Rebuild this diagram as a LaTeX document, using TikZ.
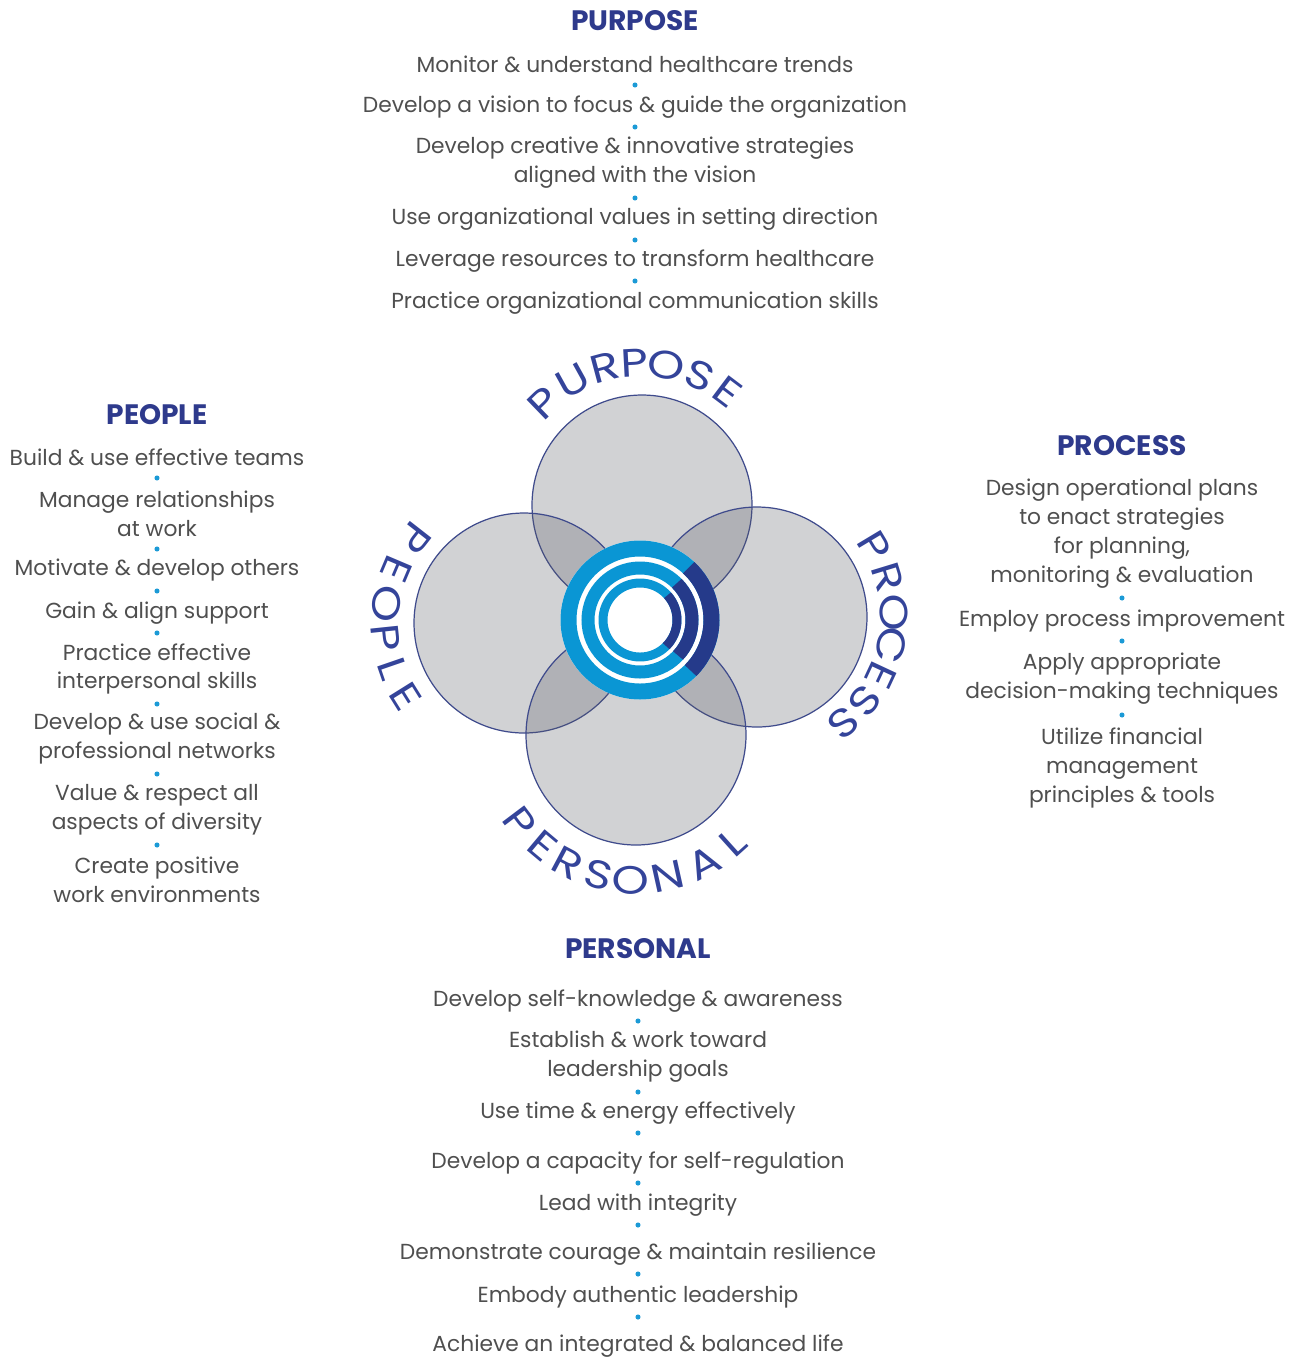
\documentclass[tikz,border=0pt]{standalone}
\usepackage{fontspec}
\setmainfont{Poppins}
\newfontfamily\arcfont[FakeStretch=1.2]{Poppins}
\usetikzlibrary{calc,positioning}
\definecolor{navy}{HTML}{2E3A8C}
\definecolor{arcnavy}{HTML}{34449A}
\definecolor{txtgray}{HTML}{4F4F4F}
\definecolor{dotblue}{HTML}{1B9AD6}
\definecolor{petaledge}{HTML}{3F4B8C}
\definecolor{petalgray}{HTML}{595C66}
\definecolor{logoblue}{HTML}{0A96D4}
\definecolor{logonavy}{HTML}{253A8A}
\tikzset{
	item/.style={align=center, text=txtgray, font=\fontsize{12.4}{16.5}\selectfont, inner sep=0pt},
	head/.style={text=navy, font=\fontsize{16}{18}\selectfont\bfseries, inner sep=0pt},
	dot/.style={circle, fill=dotblue, inner sep=0pt, minimum size=2.9pt},
	petal/.style={draw=petaledge, line width=0.7pt, fill=petalgray, fill opacity=0.28},
	arcl/.style={text=arcnavy, font=\arcfont\fontsize{22.5}{22.5}\selectfont, inner sep=0pt}
}
\begin{document}
\begin{tikzpicture}[x=0.02cm, y=-0.02cm]
	\useasboundingbox (0,0) rectangle (1296,1357);
	\begin{scope}[shift={(640,620)}, y=0.02cm]
	\coordinate (cpur) at (2,115);
	\coordinate (cpro) at (117,3);
	\coordinate (cper) at (-4,-115);
	\coordinate (cpeo) at (-116,-3);
	\draw[petal] (cpur) circle (110);
	\draw[petal] (cpeo) circle (110);
	\draw[petal] (cpro) circle (110);
	\draw[petal] (cper) circle (110);
	\fill[white] (0,0) circle (79.5);
	\draw[logoblue, line width=9.1pt] (0,0) circle (71.5);
	\draw[logoblue, line width=7.4pt] (0,0) circle (52);
	\draw[logoblue, line width=5.1pt] (0,0) circle (37);
	\draw[logonavy, line width=9.1pt] (-45:71.5) arc (-45:47:71.5);
	\draw[logonavy, line width=7.4pt] (-43:52) arc (-43:45:52);
	\draw[logonavy, line width=5.1pt] (-45:37) arc (-45:42:37);
	\foreach \l/\a [count=\i] in {P/134,U/119,R/105,P/93,O/80,S/66,E/53}
		\node[arcl, rotate=\a-90] (lpur\i) at ($(cpur)+(\a:142)$) {\l};
	\foreach \l/\a [count=\i] in {P/31,R/17,O/2,C/-12,E/-25,S/-38,S/-51}
		\node[arcl, rotate=\a-90] (lpro\i) at ($(cpro)+(\a:137)$) {\l};
	\foreach \l/\a [count=\i] in {P/142,E/157,O/172,P/186,L/199,E/212}
		\node[arcl, rotate=\a+90] (lpeo\i) at ($(cpeo)+(\a:139)$) {\l};
	\foreach \l/\a [count=\i] in {P/217,E/230,R/242,S/255,O/268,N/282.5,A/298,L/312}
		\node[arcl, rotate=\a+90] (lper\i) at ($(cper)+(\a:145)$) {\l};
	\end{scope}

	\node[head] (purT) at (635,21) {PURPOSE};
	\node[item] (pur1) at (635,64) {Monitor \& understand healthcare trends};
	\node[item] (pur2) at (635,107) {Develop a vision to focus \& guide the organization};
	\node[item] (pur3) at (635,163) {Develop creative \& innovative strategies\\aligned with the vision};
	\node[item] (pur4) at (635,219) {Use organizational values in setting direction};
	\node[item] (pur5) at (635,261) {Leverage resources to transform healthcare};
	\node[item] (pur6) at (635,303) {Practice organizational communication skills};
	\foreach \y in {85,127,198,240,281}
		\node[dot] (bpur\y) at (635,\y) {};

	\node[head] (peoT) at (157,415) {PEOPLE};
	\node[item] (peo1) at (157,457) {Build \& use effective teams};
	\node[item] (peo2) at (157,514) {Manage relationships\\at work};
	\node[item] (peo3) at (157,570) {Motivate \& develop others};
	\node[item] (peo4) at (157,613) {Gain \& align support};
	\node[item] (peo5) at (157,669) {Practice effective\\interpersonal skills};
	\node[item] (peo6) at (157,739) {Develop \& use social \&\\professional networks};
	\node[item] (peo7) at (157,810) {Value \& respect all\\aspects of diversity};
	\node[item] (peo8) at (157,880) {Create positive\\work environments};
	\foreach \y in {478,549,591,633,704,774,845}
		\node[dot] (bpeo\y) at (157,\y) {};

	\node[head] (proT) at (1122,446) {PROCESS};
	\node[item] (pro1) at (1122,534) {Design operational plans\\to enact strategies\\for planning,\\monitoring \& evaluation};
	\node[item] (pro2) at (1122,621) {Employ process improvement};
	\node[item] (pro3) at (1122,679) {Apply appropriate\\decision-making techniques};
	\node[item] (pro4) at (1122,768) {Utilize financial\\management\\principles \& tools};
	\foreach \y in {598,641,715}
		\node[dot] (bpro\y) at (1122,\y) {};

	\node[head] (perT) at (638,949) {PERSONAL};
	\node[item] (per1) at (638,1001) {Develop self-knowledge \& awareness};
	\node[item] (per2) at (638,1057) {Establish \& work toward\\leadership goals};
	\node[item] (per3) at (638,1113) {Use time \& energy effectively};
	\node[item] (per4) at (638,1163) {Develop a capacity for self-regulation};
	\node[item] (per5) at (638,1205) {Lead with integrity};
	\node[item] (per6) at (638,1254) {Demonstrate courage \& maintain resilience};
	\node[item] (per7) at (638,1297) {Embody authentic leadership};
	\node[item] (per8) at (638,1346) {Achieve an integrated \& balanced life};
	\foreach \y in {1021,1092,1133,1183,1225,1274,1317}
		\node[dot] (bper\y) at (638,\y) {};
\end{tikzpicture}
\end{document}
